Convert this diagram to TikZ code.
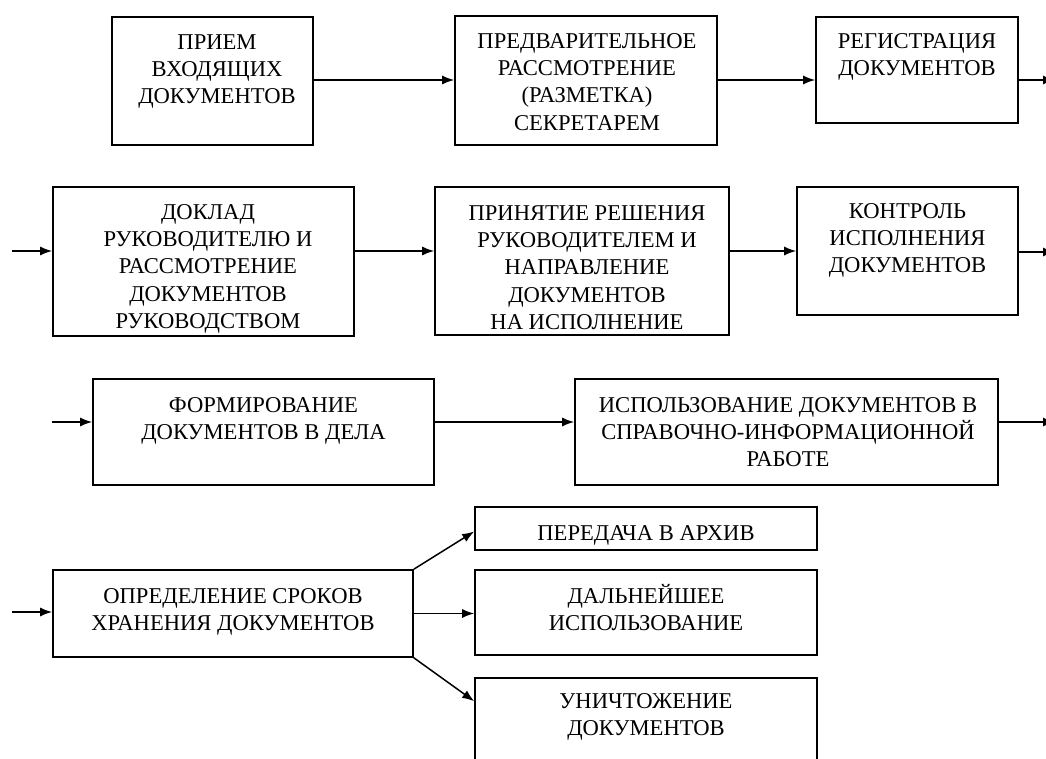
\documentclass[tikz,border=0pt]{standalone}
\usepackage{fontspec}
\setmainfont{Liberation Serif}
\usetikzlibrary{arrows.meta}
\newcommand{\fstrut}{\rule{0pt}{21pt}}
\tikzset{
  box/.style={draw, line width=1.6pt, rectangle, inner sep=0pt},
  txt/.style={inner sep=0pt, align=center, anchor=north, font=\fontsize{22.6}{27.3}\selectfont},
  arr/.style={line width=1.5pt, -{Latex[length=12pt,width=9pt]}}
}
\begin{document}
\begin{tikzpicture}[x=1pt,y=-1pt]
\clip (0,0) rectangle (1046,759);
\fill[white] (0,0) rectangle (1046,759);
% boxes
\node[box, minimum width=201pt, minimum height=128pt] (A) at (212.5,81) {};
\node[box, minimum width=262pt, minimum height=129pt] (B) at (586,80.5) {};
\node[box, minimum width=202pt, minimum height=106pt] (C) at (917,70) {};
\node[box, minimum width=301pt, minimum height=149pt] (D) at (203.5,261.5) {};
\node[box, minimum width=294pt, minimum height=148pt] (E) at (582,261) {};
\node[box, minimum width=221pt, minimum height=128pt] (F) at (907.5,251) {};
\node[box, minimum width=341pt, minimum height=106pt] (G) at (263.5,432) {};
\node[box, minimum width=423pt, minimum height=106pt] (H) at (786.5,432) {};
\node[box, minimum width=360pt, minimum height=87pt] (I) at (233,613.5) {};
\node[box, minimum width=342pt, minimum height=43pt] (J) at (646,528.5) {};
\node[box, minimum width=342pt, minimum height=85pt] (K) at (646,612.5) {};
\node[box, minimum width=342pt, minimum height=102pt] (L) at (646,729) {};
% texts (anchor = first baseline - 21)
\node[txt] (tA) at (217,28) {\fstrut ПРИЕМ\\ВХОДЯЩИХ\\ДОКУМЕНТОВ};
\node[txt] (tB) at (587,27) {\fstrut ПРЕДВАРИТЕЛЬНОЕ\\РАССМОТРЕНИЕ\\(РАЗМЕТКА)\\СЕКРЕТАРЕМ};
\node[txt] (tC) at (917,27) {\fstrut РЕГИСТРАЦИЯ\\ДОКУМЕНТОВ};
\node[txt] (tD) at (208,198) {\fstrut ДОКЛАД\\РУКОВОДИТЕЛЮ И\\РАССМОТРЕНИЕ\\ДОКУМЕНТОВ\\РУКОВОДСТВОМ};
\node[txt] (tE) at (587,199) {\fstrut ПРИНЯТИЕ РЕШЕНИЯ\\РУКОВОДИТЕЛЕМ И\\НАПРАВЛЕНИЕ\\ДОКУМЕНТОВ\\НА ИСПОЛНЕНИЕ};
\node[txt] (tF) at (907.5,197) {\fstrut КОНТРОЛЬ\\ИСПОЛНЕНИЯ\\ДОКУМЕНТОВ};
\node[txt] (tG) at (263.5,391) {\fstrut ФОРМИРОВАНИЕ\\ДОКУМЕНТОВ В ДЕЛА};
\node[txt] (tH) at (788,391) {\fstrut ИСПОЛЬЗОВАНИЕ ДОКУМЕНТОВ В\\СПРАВОЧНО-ИНФОРМАЦИОННОЙ\\РАБОТЕ};
\node[txt] (tI) at (233,582) {\fstrut ОПРЕДЕЛЕНИЕ СРОКОВ\\ХРАНЕНИЯ ДОКУМЕНТОВ};
\node[txt] (tJ) at (646,519) {\fstrut ПЕРЕДАЧА В АРХИВ};
\node[txt] (tK) at (646,582) {\fstrut ДАЛЬНЕЙШЕЕ\\ИСПОЛЬЗОВАНИЕ};
\node[txt] (tL) at (646,687) {\fstrut УНИЧТОЖЕНИЕ\\ДОКУМЕНТОВ};
% row levels and free ends
\coordinate (r1) at (0,80);
\coordinate (r2) at (0,251);
\coordinate (r3) at (0,422);
\coordinate (d0) at (12,251);
\coordinate (g0) at (52,422);
\coordinate (i0) at (12,612);
\coordinate (c1) at (1055,80);
\coordinate (f1) at (1055,252);
\coordinate (h1) at (1055,422);
% connectors
\draw[arr] (A.east |- r1) -- (B.west |- r1);
\draw[arr] (B.east |- r1) -- (C.west |- r1);
\draw[arr] (C.east |- c1) -- (c1);
\draw[arr] (d0) -- (D.west |- d0);
\draw[arr] (D.east |- r2) -- (E.west |- r2);
\draw[arr] (E.east |- r2) -- (F.west |- r2);
\draw[arr] (F.east |- f1) -- (f1);
\draw[arr] (g0) -- (G.west |- g0);
\draw[arr] (G.east |- r3) -- (H.west |- r3);
\draw[arr] (H.east |- h1) -- (h1);
\draw[arr] (i0) -- (I.west |- i0);
\draw[arr] (I.north east) -- ([yshift=-3pt]J.west);
\draw[arr] (I.east) -- (I.east -| K.west);
\draw[arr] (I.south east) -- ([yshift=-24pt]L.north west);
\end{tikzpicture}
\end{document}
